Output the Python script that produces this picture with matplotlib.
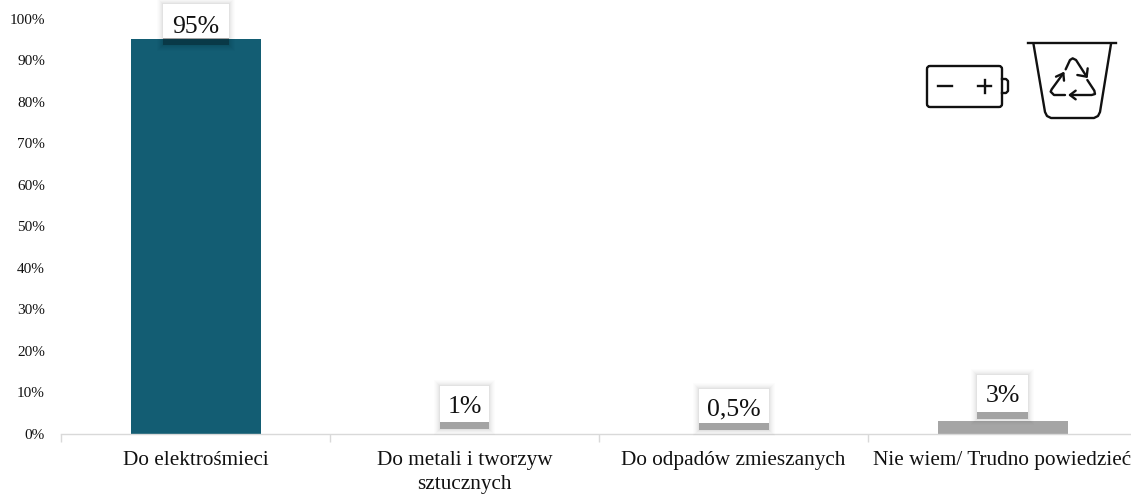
import matplotlib
matplotlib.use('Agg')
import matplotlib.pyplot as plt
from matplotlib.patches import FancyBboxPatch, Rectangle

# Chart data
categories = ['Do elektrośmieci', 'Do metali i tworzyw\nsztucznych',
              'Do odpadów zmieszanych', 'Nie wiem/ Trudno powiedzieć']
values = [95, 1, 0.5, 3]
value_labels = ['95%', '1%', '0,5%', '3%']
bar_colors = ['#135d73', '#ffffff', '#ffffff', '#a5a5a5']
y_ticks = list(range(0, 101, 10))

W, H = 1131, 494
FONT = 'Liberation Serif'
TEXT = '#111111'

plt.rcParams['font.family'] = FONT

fig = plt.figure(figsize=(W / 100, H / 100), dpi=100, facecolor='white')

# main axes run a little past the right edge of the picture, like the original
left, right, top, bottom = 61, 1137, 18.5, 433.5
ax = fig.add_axes([left / W, 1 - bottom / H, (right - left) / W, (bottom - top) / H])
ax.bar(range(len(values)), values, width=130 / 269, color=bar_colors, zorder=2)
ax.set_xlim(-0.5, 3.5)
ax.set_ylim(0, 100)

ax.set_yticks(y_ticks)
ax.set_yticklabels([f'{t}%' for t in y_ticks], fontsize=11, color=TEXT)
ax.tick_params(axis='y', length=0, pad=11.5)

# ticks sit between categories, labels are centred under bars
ax.set_xticks([-0.5, 0.5, 1.5, 2.5])
ax.set_xticklabels([])
ax.tick_params(axis='x', length=6, width=1, color='#d9d9d9')
for i, cat in enumerate(categories):
    ax.annotate(cat, xy=(i, 0), xycoords=('data', 'axes fraction'),
                xytext=(0, -17), textcoords='offset pixels',
                ha='center', va='top', fontsize=15.3, color=TEXT, linespacing=1.36)

for name in ['top', 'right', 'left']:
    ax.spines[name].set_visible(False)
ax.spines['bottom'].set_color('#d9d9d9')
ax.spines['bottom'].set_linewidth(1)

# overlay in picture pixels for the label boxes and the icons
ov = fig.add_axes([0, 0, 1, 1], zorder=5)
ov.set_xlim(0, W)
ov.set_ylim(H, 0)
ov.axis('off')
ov.patch.set_alpha(0)

box_widths = [66, 49, 70, 51]
box_heights = [34, 36, 34, 37]
box_gaps = [1, 7, 8, 9]
text_rise = [11, 15, 14, 16]


def value_box(i):
    px = ax.transData.transform((i, values[i]))
    cx = px[0]
    y_bar = H - px[1]
    w, h = box_widths[i], box_heights[i]
    y1 = y_bar - box_gaps[i]
    x0 = cx - w / 2
    y0 = y1 - h
    # soft halo
    for grow, alpha in [(6, 0.01), (5, 0.012), (4, 0.016), (3, 0.02), (2, 0.025), (1, 0.03)]:
        ov.add_patch(Rectangle((x0 - grow, y0 - grow), w + 2 * grow, h + 2 * grow + 7,
                               fc='black', ec='none', alpha=alpha))
    # darker band under the box
    ov.add_patch(Rectangle((x0, y1), w, 7, fc='black', ec='none', alpha=0.28))
    ov.add_patch(Rectangle((x0, y0), w, h, fc='white', ec='none'))
    ov.text(cx, y1 - text_rise[i], value_labels[i], ha='center', va='center',
            fontsize=18.5, color=TEXT)


for i in range(len(values)):
    value_box(i)

# battery icon
LW = 1.7
ICON = '#111111'
ov.add_patch(FancyBboxPatch((929, 68), 71, 37, boxstyle='round,pad=2,rounding_size=3',
                            fc='white', ec=ICON, lw=LW))
ov.plot([1002, 1006, 1008, 1008, 1006, 1002], [79, 79, 81, 91, 93, 93], color=ICON, lw=LW)
ov.plot([938, 952], [86, 86], color=ICON, lw=LW)
ov.plot([978, 991], [86.5, 86.5], color=ICON, lw=LW)
ov.plot([984.5, 984.5], [80, 93], color=ICON, lw=LW)

# recycling bin icon
ov.plot([1028, 1116], [43.5, 43.5], color=ICON, lw=LW)
ov.plot([1033.5, 1045, 1047, 1051, 1094, 1098, 1100, 1111],
        [44, 112, 116, 118, 118, 116, 112, 44], color=ICON, lw=LW, solid_joinstyle='round')


def zoomed(xs, ys):
    return [900 + x / 3 for x in xs], [20 + y / 3 for y in ys]


arrows = [
    ([495, 462, 452, 455, 490], [225, 225, 215, 208, 160]),
    ([468, 490, 492], [170, 160, 182]),
    ([497, 510, 518, 528, 560], [148, 120, 115, 120, 170]),
    ([532, 560, 563], [165, 170, 145]),
    ([562, 583, 585, 575, 510], [180, 212, 222, 225, 225]),
    ([527, 510, 527], [212, 225, 238]),
]
for xs, ys in arrows:
    px, py = zoomed(xs, ys)
    ov.plot(px, py, color=ICON, lw=LW, solid_joinstyle='round', solid_capstyle='round')

fig.savefig('out.png', dpi=100, facecolor='white')
plt.close(fig)
